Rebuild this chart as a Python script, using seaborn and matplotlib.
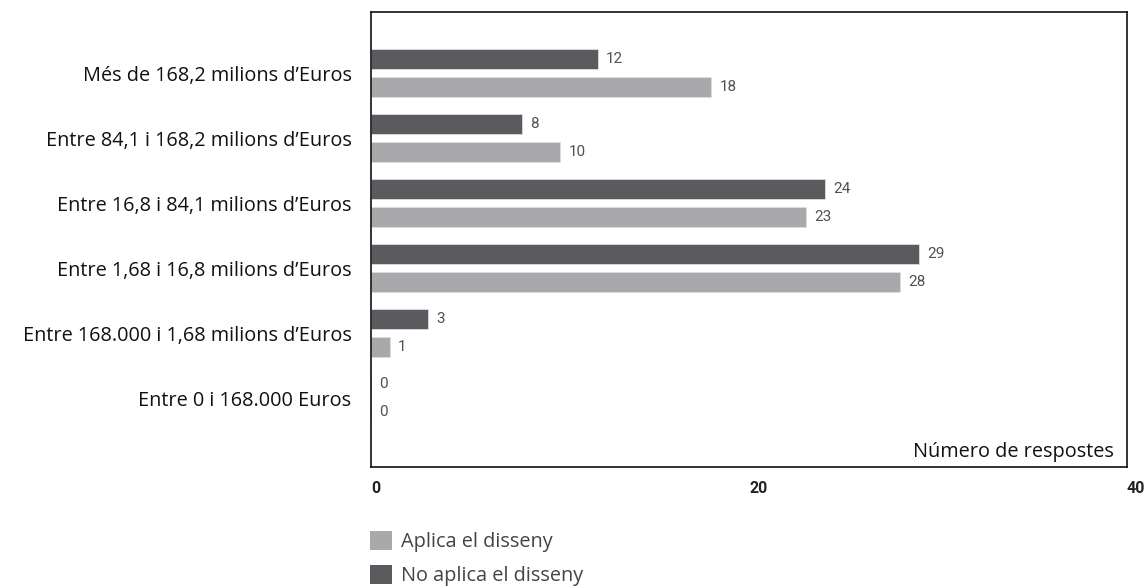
import matplotlib
matplotlib.use("Agg")
import matplotlib.pyplot as plt
import seaborn as sns
import pandas as pd
from matplotlib.patches import Patch

categories = [
    "Més de 168,2 milions d’Euros",
    "Entre 84,1 i 168,2 milions d’Euros",
    "Entre 16,8 i 84,1 milions d’Euros",
    "Entre 1,68 i 16,8 milions d’Euros",
    "Entre 168.000 i 1,68 milions d’Euros",
    "Entre 0 i 168.000 Euros",
]
no_aplica = [12, 8, 24, 29, 3, 0]
aplica = [18, 10, 23, 28, 1, 0]
series_names = ["No aplica el disseny", "Aplica el disseny"]
xticks = [0, 20, 40]

dark = "#5b5a5f"
light = "#a9a9ac"

sns.set_theme(style="white")
plt.rcParams["font.family"] = ["Open Sans", "DejaVu Sans"]

df = pd.DataFrame({
    "cat": categories * 2,
    "val": no_aplica + aplica,
    "serie": [series_names[0]] * len(categories) + [series_names[1]] * len(categories),
})

fig = plt.figure(figsize=(11.48, 5.87), dpi=100)
ax = fig.add_axes([371 / 1148, 1 - 467 / 587, (1127 - 371) / 1148, (467 - 12) / 587])

sns.barplot(data=df, y="cat", x="val", hue="serie", order=categories,
            hue_order=series_names, palette=[dark, light], orient="h",
            width=0.86, gap=0.3, ax=ax, legend=False, errorbar=None,
            edgecolor="#dddddd", linewidth=0.6, saturation=1)

for cont in ax.containers:
    ax.bar_label(cont, padding=6, fontsize=11, color="#505050",
                 family=["Roboto", "DejaVu Sans"])

ax.set_xlim(0, 40)
ax.set_ylim(5.0 + 1.06, -0.94)
ax.set_xticks(xticks)
ax.set_xticklabels([str(t) for t in xticks], fontsize=11.5, fontweight="bold",
                   color="#222222", family=["Roboto", "DejaVu Sans"])
for lbl in ax.get_xticklabels():
    lbl.set_ha("left")
ax.tick_params(axis="x", length=0, pad=10)
ax.tick_params(axis="y", length=0, pad=14, labelsize=14.3, labelcolor="#111111")
ax.set_xlabel("")
ax.set_ylabel("")
for s in ax.spines.values():
    s.set_visible(True)
    s.set_color("#111111")
    s.set_linewidth(1.2)

ax.text(0.983, 0.012, "Número de respostes", transform=ax.transAxes,
        ha="right", va="bottom", fontsize=14.3, color="#111111")

handles = [Patch(facecolor=light, edgecolor="none", label=series_names[1]),
           Patch(facecolor=dark, edgecolor="none", label=series_names[0])]
leg = fig.legend(handles=handles, loc="upper left",
                 bbox_to_anchor=(370 / 1148, 1 - 531 / 587), frameon=False,
                 fontsize=14.3, handlelength=1.1, handleheight=1.1,
                 handletextpad=0.45, labelspacing=0.62, borderaxespad=0,
                 borderpad=0)
for t in leg.get_texts():
    t.set_color("#444444")

fig.savefig("out.png", dpi=100)
